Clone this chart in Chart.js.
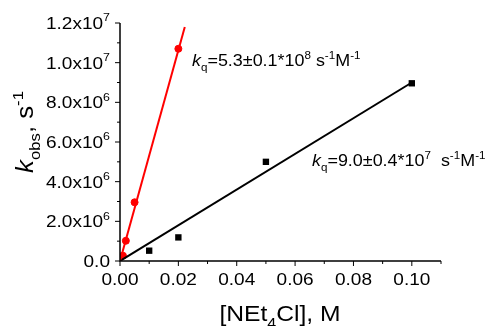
<!DOCTYPE html>
<html>
<head>
<meta charset="utf-8">
<script src="https://cdn.jsdelivr.net/npm/chart.js@4.4.1/dist/chart.umd.min.js"></script>
<style>
  html, body { margin: 0; padding: 0; background: #fff; }
  #wrap { width: 493px; height: 326px; }
</style>
</head>
<body>
<div id="wrap"><canvas id="chart" width="493" height="326"></canvas></div>
<script>
// measured points
const redX = [0.001, 0.002, 0.005, 0.02];
const redY = [2.7e5, 1.02e6, 2.96e6, 1.07e7];
const blackX = [0.01, 0.02, 0.05, 0.1];
const blackY = [5.2e5, 1.19e6, 5.0e6, 8.96e6];

// fitted lines (end points)
const redFitX = [0, 0.0222];
const redFitY = [0, 1.18e7];
const blackFitX = [0, 0.1];
const blackFitY = [0, 9.0e6];

// axis ticks
const xTickValues = [0, 0.02, 0.04, 0.06, 0.08, 0.10];
const xTickLabels = ['0.00', '0.02', '0.04', '0.06', '0.08', '0.10'];
const xMinorValues = [0.01, 0.03, 0.05, 0.07, 0.09, 0.11];
const yTickValues = [0, 2e6, 4e6, 6e6, 8e6, 1e7, 1.2e7];
const yTickMant = ['0.0', '2.0', '4.0', '6.0', '8.0', '1.0', '1.2'];
const yTickExp = ['', '6', '6', '6', '6', '7', '7'];
const yMinorValues = [1e6, 3e6, 5e6, 7e6, 9e6, 1.1e7];

const FONT = '"Liberation Sans", Arial, sans-serif';
const SX = 1.12; // text in the picture is a bit wide

function toPts(xs, ys) {
  return xs.map((x, i) => ({ x: x, y: ys[i] }));
}

// draw text made of parts: [text, kind] kind = '', 'i', 'sup', 'sub'
function partFont(kind, size) {
  const s = (kind === 'sup' || kind === 'sub') ? size * 0.65 : size;
  return (kind === 'i' ? 'italic ' : '') + s + 'px ' + FONT;
}
function richWidth(ctx, parts, size) {
  let w = 0;
  parts.forEach(p => { ctx.font = partFont(p[1], size); w += ctx.measureText(p[0]).width; });
  return w * SX;
}
function drawRich(ctx, x, y, parts, size, align) {
  const w = richWidth(ctx, parts, size);
  let cx = x;
  if (align === 'right') cx = x - w;
  if (align === 'center') cx = x - w / 2;
  ctx.save();
  ctx.translate(cx, y);
  ctx.scale(SX, 1);
  ctx.textBaseline = 'alphabetic';
  ctx.textAlign = 'left';
  ctx.fillStyle = '#000';
  let px = 0;
  parts.forEach(p => {
    ctx.font = partFont(p[1], size);
    let dy = 0;
    if (p[1] === 'sup') dy = -size * 0.45;
    if (p[1] === 'sub') dy = size * 0.3;
    ctx.fillText(p[0], px, dy);
    px += ctx.measureText(p[0]).width;
  });
  ctx.restore();
}

const axesPlugin = {
  id: 'axesPlugin',
  afterDraw(chart) {
    const ctx = chart.ctx;
    const xs = chart.scales.x, ys = chart.scales.y;
    const area = chart.chartArea;
    ctx.save();
    ctx.strokeStyle = '#000';
    ctx.lineWidth = 1.5;
    // axis lines
    ctx.beginPath();
    ctx.moveTo(area.left, area.top);
    ctx.lineTo(area.left, area.bottom);
    ctx.lineTo(area.right, area.bottom);
    ctx.stroke();
    // ticks
    ctx.lineWidth = 1;
    ctx.beginPath();
    xTickValues.forEach(v => { const p = xs.getPixelForValue(v); ctx.moveTo(p, area.bottom); ctx.lineTo(p, area.bottom + 5); });
    xMinorValues.forEach(v => { const p = xs.getPixelForValue(v); ctx.moveTo(p, area.bottom); ctx.lineTo(p, area.bottom + 3); });
    yTickValues.forEach(v => { const p = ys.getPixelForValue(v); ctx.moveTo(area.left, p); ctx.lineTo(area.left - 5, p); });
    yMinorValues.forEach(v => { const p = ys.getPixelForValue(v); ctx.moveTo(area.left, p); ctx.lineTo(area.left - 3, p); });
    ctx.stroke();
    ctx.restore();

    // tick labels
    xTickValues.forEach((v, i) => {
      drawRich(ctx, xs.getPixelForValue(v), area.bottom + 24, [[xTickLabels[i], '']], 17, 'center');
    });
    yTickValues.forEach((v, i) => {
      const parts = [[yTickMant[i], '']];
      if (yTickExp[i]) { parts[0][0] += 'x10'; parts.push([yTickExp[i], 'sup']); }
      drawRich(ctx, area.left - 10, ys.getPixelForValue(v) + 6, parts, 17, 'right');
    });

    // axis titles
    drawRich(ctx, 280, 321, [['[NEt', ''], ['4', 'sub'], ['Cl], M', '']], 22, 'center');
    ctx.save();
    ctx.translate(33, 132);
    ctx.rotate(-Math.PI / 2);
    drawRich(ctx, 0, 0, [['k', 'i'], ['obs', 'sub'], [', s', ''], ['-1', 'sup']], 23, 'center');
    ctx.restore();

    // fit annotations
    drawRich(ctx, 192, 66, [['k', 'i'], ['q', 'sub'], ['=5.3±0.1*10', ''], ['8', 'sup'], [' s', ''], ['-1', 'sup'], ['M', ''], ['-1', 'sup']], 16, 'left');
    drawRich(ctx, 312, 166, [['k', 'i'], ['q', 'sub'], ['=9.0±0.4*10', ''], ['7', 'sup'], ['  s', ''], ['-1', 'sup'], ['M', ''], ['-1', 'sup']], 16, 'left');
  }
};

const ctx = document.getElementById('chart').getContext('2d');
const chart = new Chart(ctx, {
  type: 'scatter',
  data: {
    datasets: [
      {
        data: toPts(redFitX, redFitY),
        showLine: true,
        borderColor: '#ff0000',
        borderWidth: 2,
        pointRadius: 0,
      },
      {
        data: toPts(blackFitX, blackFitY),
        showLine: true,
        borderColor: '#000000',
        borderWidth: 2,
        pointRadius: 0,
      },
      {
        data: toPts(redX, redY),
        pointStyle: 'circle',
        pointRadius: 3.5,
        backgroundColor: '#ff0000',
        borderColor: '#ff0000',
        borderWidth: 1,
      },
      {
        data: toPts(blackX, blackY),
        pointStyle: 'rect',
        pointRadius: 4.5,
        backgroundColor: '#000000',
        borderColor: '#000000',
        borderWidth: 0,
      },
    ],
  },
  options: {
    responsive: false,
    animation: false,
    events: [],
    layout: { padding: { left: 120, right: 52, top: 23, bottom: 65 } },
    plugins: { legend: { display: false }, tooltip: { enabled: false } },
    scales: {
      x: { type: 'linear', min: 0, max: 0.11, display: false },
      y: { type: 'linear', min: 0, max: 1.2e7, display: false },
    },
  },
  plugins: [axesPlugin],
});
</script>
</body>
</html>
